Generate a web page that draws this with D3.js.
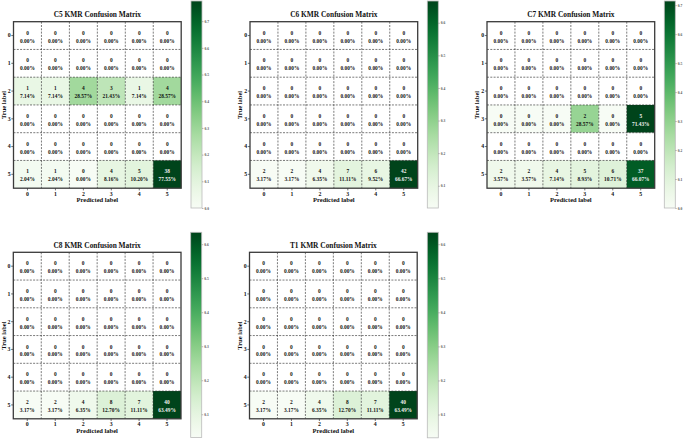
<!DOCTYPE html>
<html><head><meta charset="utf-8">
<script src="https://cdn.jsdelivr.net/npm/d3@7/dist/d3.min.js"></script>
<style>
html,body{margin:0;padding:0;background:#fff;}
svg{display:block;}
text{font-family:"Liberation Serif","Times New Roman",serif;font-weight:bold;}
</style></head>
<body>
<svg id="chart" width="685" height="441"></svg>
<script>
// ---------------- data ----------------
const labels = ["0","1","2","3","4","5"];
const titles = ["C5 KMR Confusion Matrix","C6 KMR Confusion Matrix","C7 KMR Confusion Matrix","C8 KMR Confusion Matrix","T1 KMR Confusion Matrix"];
const zeroRow = [0,0,0,0,0,0];
const c5Counts = [zeroRow, zeroRow, [1,1,4,3,1,4], zeroRow, zeroRow, [1,1,0,4,5,38]];
const c6Counts = [zeroRow, zeroRow, zeroRow, zeroRow, zeroRow, [2,2,4,7,6,42]];
const c7Counts = [zeroRow, zeroRow, zeroRow, [0,0,0,2,0,5], zeroRow, [2,2,4,5,6,37]];
const c8Counts = [zeroRow, zeroRow, zeroRow, zeroRow, zeroRow, [2,2,4,8,7,40]];
const t1Counts = [zeroRow, zeroRow, zeroRow, zeroRow, zeroRow, [2,2,4,8,7,40]];
const allCounts = [c5Counts, c6Counts, c7Counts, c8Counts, t1Counts];

// ---------------- layout ----------------
const panels = [
  {mx:13.5, my:21.7, cx:191,   cy0:1,     cy1:208},
  {mx:250,  my:21.7, cx:427.3, cy0:1,     cy1:208},
  {mx:487,  my:21.7, cx:664.3, cy0:1,     cy1:208},
  {mx:13.3, my:252.3, cx:190.7, cy0:232.3, cy1:437.5},
  {mx:249.5,my:252.3, cx:427.3, cy0:232.3, cy1:437.8}
];
const MW = 167.7, MH = 166.5, CBW = 11;

const svg = d3.select("#chart");
const defs = svg.append("defs");

allCounts.forEach((counts, pi) => {
  const p = panels[pi];
  // row-normalised values (NaN for empty rows)
  const cells = [];
  counts.forEach((row, r) => {
    const s = d3.sum(row);
    row.forEach((c, k) => cells.push({r, k, count:c, v: s > 0 ? c / s : NaN}));
  });
  const valid = cells.filter(d => !isNaN(d.v)).map(d => d.v);
  const vmin = d3.min(valid), vmax = d3.max(valid);
  const color = d3.scaleSequential(d3.interpolateGreens).domain([vmin, vmax]);
  const thresh = vmax / 2;

  const x = d3.scaleBand().domain(labels).range([p.mx, p.mx + MW]);
  const y = d3.scaleBand().domain(labels).range([p.my, p.my + MH]);
  const g = svg.append("g");

  g.selectAll("rect.cell").data(cells).join("rect")
    .attr("class","cell")
    .attr("x", d => x(labels[d.k])).attr("y", d => y(labels[d.r]))
    .attr("width", x.bandwidth()).attr("height", y.bandwidth())
    .attr("fill", d => isNaN(d.v) ? "#ffffff" : color(d.v));

  // dashed grid
  const inner = labels.slice(1);
  g.selectAll("line.vg").data(inner).join("line")
    .attr("x1", d => x(d)).attr("x2", d => x(d))
    .attr("y1", p.my).attr("y2", p.my + MH)
    .attr("stroke","#222").attr("stroke-width",0.6).attr("stroke-dasharray","2,1.3");
  g.selectAll("line.hg").data(inner).join("line")
    .attr("y1", d => y(d)).attr("y2", d => y(d))
    .attr("x1", p.mx).attr("x2", p.mx + MW)
    .attr("stroke","#222").attr("stroke-width",0.6).attr("stroke-dasharray","2,1.3");

  // cell texts
  const tg = g.selectAll("g.txt").data(cells).join("g")
    .attr("transform", d => `translate(${x(labels[d.k]) + x.bandwidth()/2},${y(labels[d.r]) + y.bandwidth()/2})`)
    .attr("text-anchor","middle").attr("font-size", 5.4)
    .attr("fill", d => (!isNaN(d.v) && d.v > thresh) ? "#f0f0f0" : "#111");
  tg.append("text").attr("y", -0.9).text(d => d.count);
  tg.append("text").attr("y", 7.0).text(d => (isNaN(d.v) ? 0 : d.v * 100).toFixed(2) + "%");

  // border
  g.append("rect").attr("x", p.mx).attr("y", p.my).attr("width", MW).attr("height", MH)
    .attr("fill","none").attr("stroke","#3a3a3a").attr("stroke-width",1.3);

  // axes
  const xAxis = g.append("g").attr("transform", `translate(0,${p.my + MH})`)
    .call(d3.axisBottom(x).tickSize(2.2).tickPadding(1.0));
  const yAxis = g.append("g").attr("transform", `translate(${p.mx},0)`)
    .call(d3.axisLeft(y).tickSize(2.2).tickPadding(0.6));
  [xAxis, yAxis].forEach(a => {
    a.select(".domain").remove();
    a.selectAll("line").attr("stroke","#333").attr("stroke-width",0.7);
    a.selectAll("text").attr("font-size",5.8).attr("fill","#111")
      .attr("font-family",'"Liberation Serif",serif').attr("font-weight","bold");
  });

  // titles / labels
  g.append("text").attr("x", p.mx + MW/2).attr("y", p.my - 4.3)
    .attr("text-anchor","middle").attr("font-size",7.4).attr("fill","#111").text(titles[pi]);
  g.append("text").attr("x", p.mx + MW/2).attr("y", p.my + MH + 13.8)
    .attr("text-anchor","middle").attr("font-size",6.5).attr("fill","#111").text("Predicted label");
  g.append("text").attr("transform", `translate(${p.mx - 7.8},${p.my + MH/2}) rotate(-90)`)
    .attr("text-anchor","middle").attr("font-size",6.5).attr("fill","#111").text("True label");

  // colorbar
  const gid = "grad" + pi;
  const grad = defs.append("linearGradient").attr("id", gid)
    .attr("x1",0).attr("y1",1).attr("x2",0).attr("y2",0);
  d3.range(0, 1.0001, 0.05).forEach(t => {
    grad.append("stop").attr("offset", t).attr("stop-color", color(vmin + t * (vmax - vmin)));
  });
  const cs = d3.scaleLinear().domain([vmin, vmax]).range([p.cy1, p.cy0]);
  g.append("rect").attr("x", p.cx).attr("y", p.cy0).attr("width", CBW).attr("height", p.cy1 - p.cy0)
    .attr("fill", `url(#${gid})`).attr("stroke","#bbb").attr("stroke-width",0.8);
  const tv = d3.range(0, 1.0, 0.1).filter(t => t >= vmin - 1e-9 && t <= vmax + 1e-9);
  const cAxis = g.append("g").attr("transform", `translate(${p.cx + CBW},0)`)
    .call(d3.axisRight(cs).tickValues(tv).tickFormat(d3.format(".1f")).tickSize(1.5).tickPadding(1));
  cAxis.select(".domain").remove();
  cAxis.selectAll("line").attr("stroke","#777").attr("stroke-width",0.5);
  cAxis.selectAll("text").attr("font-size",3.6).attr("fill","#555")
    .attr("font-family",'"Liberation Serif",serif').attr("font-weight","normal");
});
</script>
</body></html>
